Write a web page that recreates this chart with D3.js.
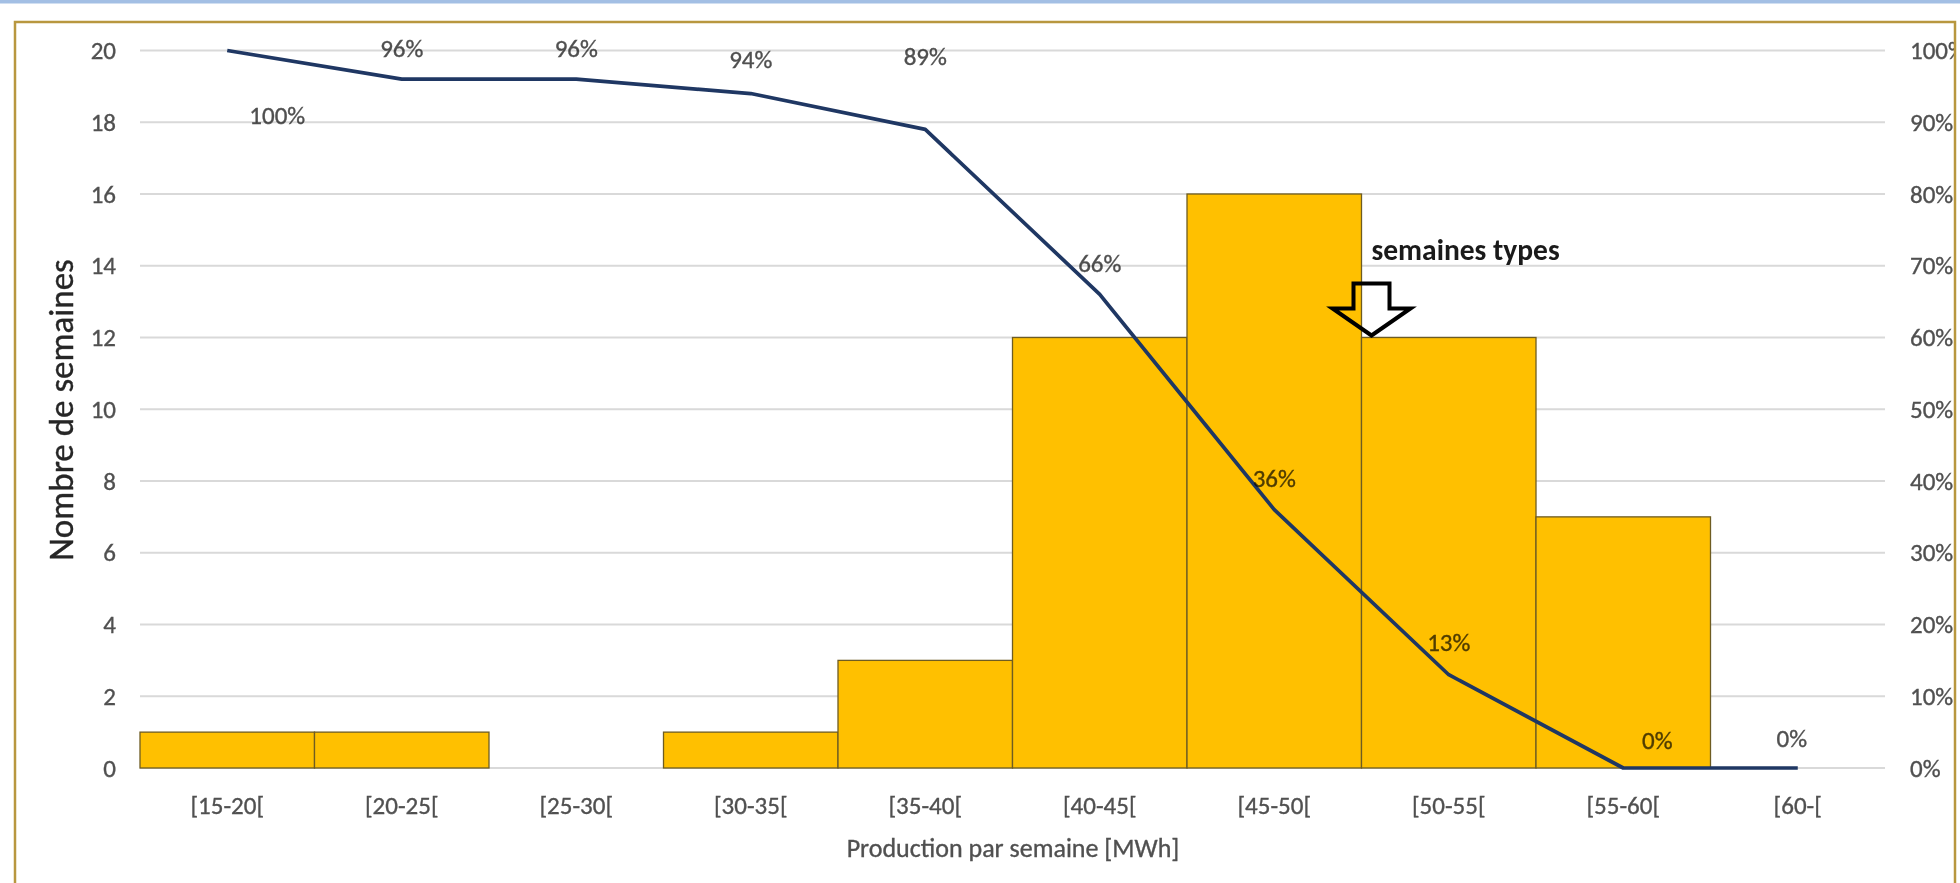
<!DOCTYPE html>
<html>
<head>
<meta charset="utf-8">
<script src="https://cdn.jsdelivr.net/npm/d3@7"></script>
<style>
  html, body { margin: 0; padding: 0; background: #ffffff; }
  svg { display: block; }
  text { font-family: Carlito, Lato, "Open Sans", sans-serif; }
</style>
</head>
<body>
<script>
// ---- data ----
const categories = ["[15-20[", "[20-25[", "[25-30[", "[30-35[", "[35-40[", "[40-45[", "[45-50[", "[50-55[", "[55-60[", "[60-["];
const weekCounts = [1, 1, 0, 1, 3, 12, 16, 12, 7, 0];
const cumulativePct = [100, 96, 96, 94, 89, 66, 36, 13, 0, 0];
const leftTicks = [0, 2, 4, 6, 8, 10, 12, 14, 16, 18, 20];
const rightTicks = [0, 10, 20, 30, 40, 50, 60, 70, 80, 90, 100];
// manual placement of the percent labels (dx, dy from the point)
const labelOffsets = [[50, 65], [0, -31], [0, -31], [0, -34], [0, -73], [0, -31], [0, -31], [0, -32], [34, -28], [-6, -30]];
const yTitle = "Nombre de semaines";
const xTitle = "Production par semaine [MWh]";
const annotation = "semaines types";

// ---- layout ----
const W = 1960, H = 883;
const FONT = "Carlito, Lato, sans-serif";
const TXT = "#505050";
const svg = d3.select("body").append("svg").attr("width", W).attr("height", H);

// top blue band
svg.append("rect").attr("x", 0).attr("y", 0).attr("width", W).attr("height", 3.5).attr("fill", "#a3bfe4");

// clip for frame
svg.append("clipPath").attr("id", "frameclip")
  .append("rect").attr("x", 15).attr("y", 22).attr("width", 1940).attr("height", 880);

const g = svg.append("g").attr("clip-path", "url(#frameclip)");

const x = d3.scaleBand().domain(categories).range([140, 1885]).padding(0);
const y = d3.scaleLinear().domain([0, 20]).range([768, 50.5]);
const y2 = d3.scaleLinear().domain([0, 100]).range([768, 50.5]);

function heavy(sel, color) {
  sel.attr("fill", color).attr("stroke", color).attr("stroke-width", 0.35);
}

// gridlines
g.append("g").selectAll("line").data(leftTicks).join("line")
  .attr("x1", 140).attr("x2", 1885)
  .attr("y1", d => y(d)).attr("y2", d => y(d))
  .attr("stroke", "#d9d9d9").attr("stroke-width", 2);

// bars
g.append("g").selectAll("rect").data(categories.map((c, i) => ({c, v: weekCounts[i]})).filter(d => d.v > 0)).join("rect")
  .attr("x", d => x(d.c)).attr("width", x.bandwidth())
  .attr("y", d => y(d.v)).attr("height", d => y(0) - y(d.v))
  .attr("fill", "#ffc000").attr("stroke", "#6e5c22").attr("stroke-width", 1.3);

// left axis
const ax = g.append("g").attr("transform", "translate(140,0)")
  .call(d3.axisLeft(y).tickValues(leftTicks).tickSize(0).tickPadding(24));
ax.select(".domain").remove();
ax.selectAll("text").attr("font-size", 25).style("font-family", FONT).call(heavy, TXT);

// right axis
const ar = g.append("g").attr("transform", "translate(1885,0)")
  .call(d3.axisRight(y2).tickValues(rightTicks).tickSize(0).tickPadding(25).tickFormat(d => d + "%"));
ar.select(".domain").remove();
ar.selectAll("text").attr("font-size", 25).style("font-family", FONT).call(heavy, TXT);

// bottom axis
const ab = g.append("g").attr("transform", "translate(0,768)")
  .call(d3.axisBottom(x).tickSize(0));
ab.select(".domain").remove();
ab.selectAll("text").attr("y", 37).attr("dy", "0.35em").attr("font-size", 25).style("font-family", FONT).call(heavy, TXT);

// axis titles
g.append("text").attr("transform", "translate(61,410) rotate(-90)")
  .attr("text-anchor", "middle").attr("dominant-baseline", "central")
  .attr("font-size", 35).text(yTitle).call(heavy, "#262626");
g.append("text").attr("x", 1013).attr("y", 848)
  .attr("text-anchor", "middle").attr("dominant-baseline", "central")
  .attr("font-size", 26).text(xTitle).call(heavy, TXT);

// cumulative line
const cx = c => x(c) + x.bandwidth() / 2;
g.append("path")
  .datum(categories.map((c, i) => [cx(c), y2(cumulativePct[i])]))
  .attr("d", d3.line())
  .attr("fill", "none").attr("stroke", "#1f3763").attr("stroke-width", 3.7).attr("stroke-linejoin", "round");

// percent labels
g.append("g").selectAll("text").data(categories).join("text")
  .attr("x", (c, i) => cx(c) + labelOffsets[i][0])
  .attr("y", (c, i) => y2(cumulativePct[i]) + labelOffsets[i][1])
  .attr("text-anchor", "middle").attr("dominant-baseline", "central")
  .attr("font-size", 25).style("mix-blend-mode", "multiply")
  .text((c, i) => cumulativePct[i] + "%").call(heavy, TXT);

// annotation arrow "semaines types"
const axp = x(categories[7]) + 10, ayp = y(12) - 2;
g.append("path")
  .attr("d", `M${axp - 18},${ayp - 52} L${axp + 18},${ayp - 52} L${axp + 18},${ayp - 27} L${axp + 39},${ayp - 27} L${axp},${ayp} L${axp - 39},${ayp - 27} L${axp - 18},${ayp - 27} Z`)
  .attr("fill", "none").attr("stroke", "#000").attr("stroke-width", 4).attr("stroke-linejoin", "miter");
g.append("text").attr("x", axp).attr("y", ayp - 86)
  .attr("dominant-baseline", "central")
  .attr("font-size", 29.5).attr("font-weight", "bold").attr("fill", "#1a1a1a").text(annotation);

// frame
svg.append("rect").attr("x", 15).attr("y", 22).attr("width", 1940).attr("height", 880)
  .attr("fill", "none").attr("stroke", "#b8973f").attr("stroke-width", 2.5);
</script>
</body>
</html>
